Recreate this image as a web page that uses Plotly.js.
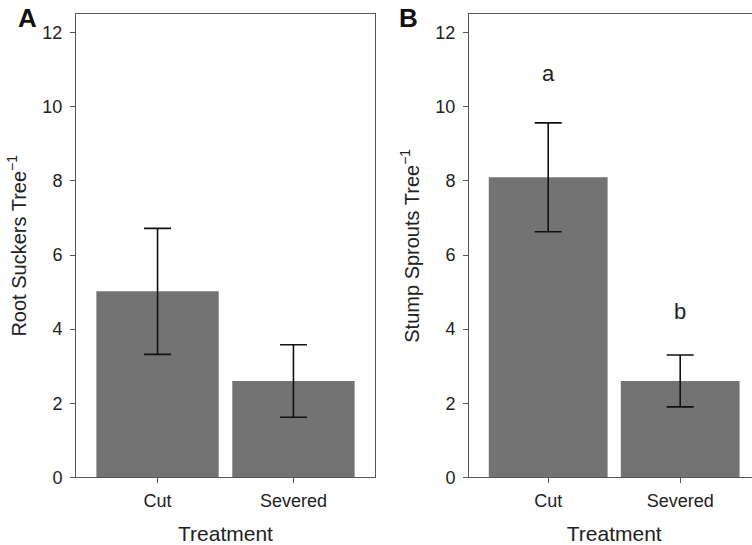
<!DOCTYPE html>
<html>
<head>
<meta charset="utf-8">
<script src="https://cdn.plot.ly/plotly-3.0.1.min.js"></script>
<style>
  html, body { margin: 0; padding: 0; overflow: hidden; background: #fff; }
  #chart { width: 760px; height: 545px; }
</style>
</head>
<body>
<div id="chart"></div>
<script>
// Data
const categories = ['Cut', 'Severed'];
const rootSuckers = [5.02, 2.60];
const rootSuckersSE = [1.70, 0.98];
const stumpSprouts = [8.10, 2.60];
const stumpSproutsSE = [1.47, 0.70];
const sigLetters = ['a', 'b'];
const sigLetterY = [10.9, 4.47];
const yTicks = [0, 2, 4, 6, 8, 10, 12];

const W = 760, H = 545;
const barColor = '#737373';
const lineColor = '#555555';
const fontFam = 'Liberation Sans, Arial, sans-serif';

function bar(y, err, xa, ya) {
  return {
    type: 'bar', x: categories, y: y, xaxis: xa, yaxis: ya,
    marker: { color: barColor, line: { width: 0 } },
    width: 0.9,
    error_y: { type: 'data', array: err, visible: true, color: '#111111', thickness: 1.6, width: 13.5 },
    showlegend: false, hoverinfo: 'skip'
  };
}

const yDom = [1 - 477.3 / H, 1 - 14.3 / H];

function yaxis(title, anchor) {
  return {
    domain: yDom, anchor: anchor, range: [0, 12.5],
    tickvals: yTicks, ticks: 'outside', ticklen: 5, tickwidth: 1, tickcolor: lineColor,
    showline: true, linecolor: lineColor, linewidth: 1, mirror: true,
    showgrid: false, zeroline: false, ticklabelstandoff: 4,
    tickfont: { family: fontFam, size: 18, color: '#222' },
    title: { text: title, font: { family: fontFam, size: 20, color: '#222' }, standoff: 10 },
    automargin: false
  };
}
function xaxis(domain, anchor) {
  return {
    domain: domain, anchor: anchor, range: [-0.6, 1.6], type: 'category',
    ticks: 'outside', ticklen: 5, tickwidth: 1, tickcolor: lineColor,
    showline: true, linecolor: lineColor, linewidth: 1, mirror: true,
    showgrid: false, zeroline: false, ticklabelstandoff: 2,
    tickfont: { family: fontFam, size: 18, color: '#222' },
    title: { text: 'Treatment', font: { family: fontFam, size: 21, color: '#222' }, standoff: 16 },
    automargin: false
  };
}

const data = [
  bar(rootSuckers, rootSuckersSE, 'x', 'y'),
  bar(stumpSprouts, stumpSproutsSE, 'x2', 'y2')
];

const annotations = [
  { text: '<b>A</b>', xref: 'paper', yref: 'paper', x: 27.5 / W, y: 1 - 17.5 / H, xanchor: 'center', yanchor: 'middle', showarrow: false, font: { family: fontFam, size: 26, color: '#111' } },
  { text: '<b>B</b>', xref: 'paper', yref: 'paper', x: 408.5 / W, y: 1 - 17.5 / H, xanchor: 'center', yanchor: 'middle', showarrow: false, font: { family: fontFam, size: 26, color: '#111' } }
];
sigLetters.forEach((t, i) => {
  annotations.push({ text: t, xref: 'x2', yref: 'y2', x: categories[i], y: sigLetterY[i], xanchor: 'center', yanchor: 'middle', showarrow: false, font: { family: fontFam, size: 22, color: '#222' } });
});

const layout = {
  width: W, height: H,
  margin: { l: 0, r: 0, t: 0, b: 0 },
  paper_bgcolor: '#fff', plot_bgcolor: '#fff',
  bargap: 0.1,
  xaxis: xaxis([76 / W, 375 / W], 'y'),
  yaxis: yaxis('Root Suckers Tree<sup>−1</sup>', 'x'),
  xaxis2: xaxis([469 / W, 759.4 / W], 'y2'),
  yaxis2: yaxis('Stump Sprouts Tree<sup>−1</sup>', 'x2'),
  annotations: annotations
};

Plotly.newPlot('chart', data, layout, { staticPlot: true, displayModeBar: false });
</script>
</body>
</html>
